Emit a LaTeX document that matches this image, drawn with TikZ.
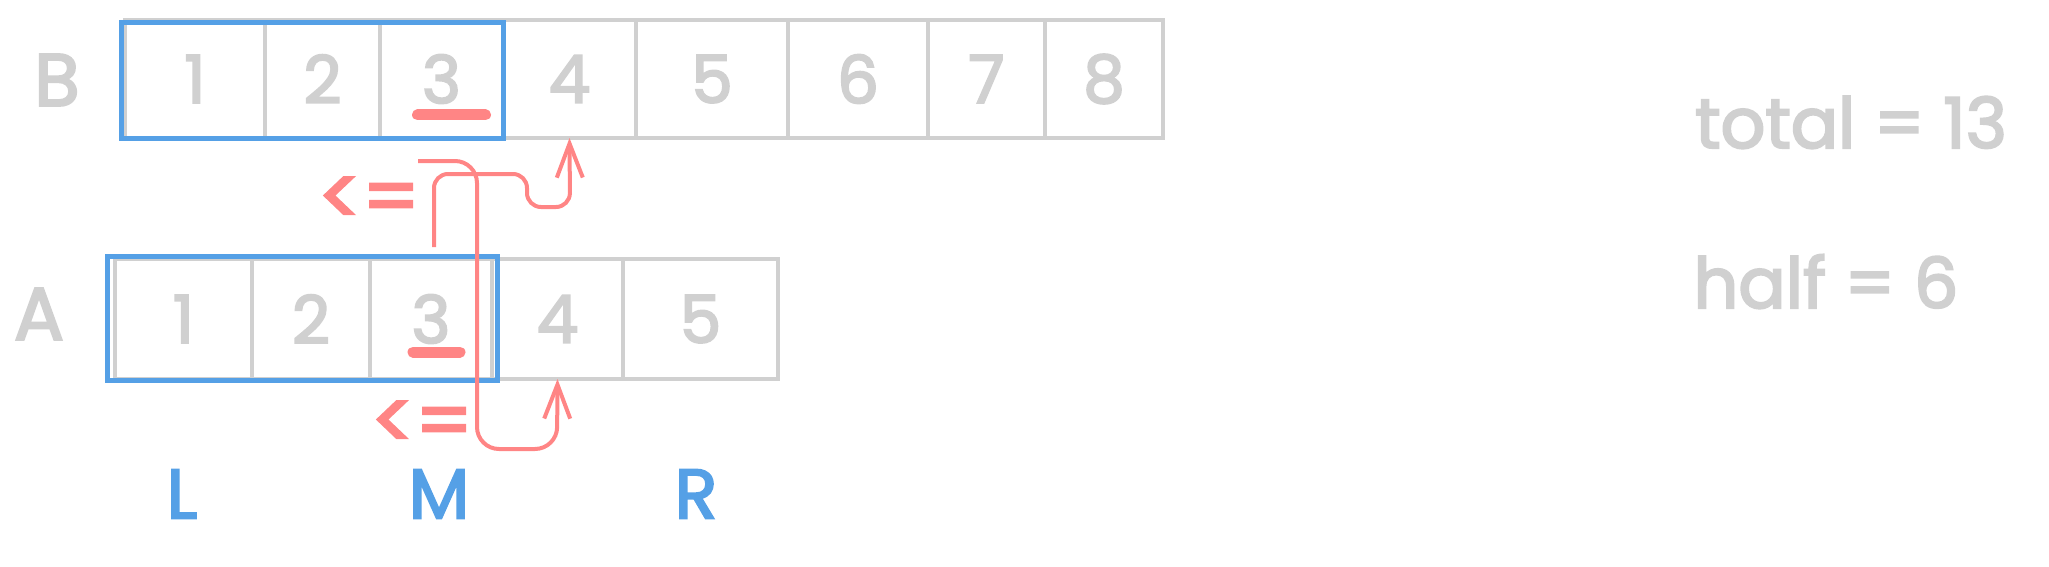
\documentclass[tikz,border=0pt]{standalone}
\usepackage{fontspec}
\setmainfont{Poppins}[FakeBold=3]
\usepackage{tikz}
\usetikzlibrary{positioning,arrows.meta}
\definecolor{inkgray}{RGB}{208,208,208}
\definecolor{inkblue}{HTML}{55A0E6}
\definecolor{inkred}{HTML}{FF8585}

\begin{document}
\begin{tikzpicture}[x=1pt,y=-1pt,
  cell/.style={draw=inkgray,line width=4pt,text=inkgray,outer sep=0pt,inner sep=0pt,font=\fontsize{66}{70}\selectfont},
  tag/.style={text=inkgray,font=\fontsize{74}{80}\selectfont},
  ptr/.style={text=inkblue,font=\fontsize{70}{74}\selectfont},
  note/.style={text=inkgray,font=\fontsize{70}{76}\selectfont},
  cmp/.style={text=inkred,font=\fontsize{80}{82}\selectfont},
  window/.style={draw=inkblue,line width=5pt},
  probe/.style={draw=inkred,line width=4pt,rounded corners=14pt,-{Straight Barb[length=34pt,width=26pt]}},
  mark3/.style={draw=inkred,line width=11pt,line cap=round}]
\useasboundingbox (0,0) rectangle (2049,567);

% array B
\node[cell,minimum height=118pt,minimum width=140pt] (b1) at (195,79) {1};
\node[cell,minimum height=118pt,minimum width=115pt,right=0pt of b1] (b2) {2};
\node[cell,minimum height=118pt,minimum width=123pt,right=0pt of b2] (b3) {3};
\node[cell,minimum height=118pt,minimum width=133pt,right=0pt of b3] (b4) {4};
\node[cell,minimum height=118pt,minimum width=152pt,right=0pt of b4] (b5) {5};
\node[cell,minimum height=118pt,minimum width=140pt,right=0pt of b5] (b6) {6};
\node[cell,minimum height=118pt,minimum width=117pt,right=0pt of b6] (b7) {7};
\node[cell,minimum height=118pt,minimum width=118pt,right=0pt of b7] (b8) {8};
\node[tag] (nameB) at (57,80) {B};

% array A
\node[cell,minimum height=120pt,minimum width=137pt] (a1) at (183.5,319) {1};
\node[cell,minimum height=120pt,minimum width=118pt,right=0pt of a1] (a2) {2};
\node[cell,minimum height=120pt,minimum width=122pt,right=0pt of a2] (a3) {3};
\node[cell,minimum height=120pt,minimum width=131pt,right=0pt of a3] (a4) {4};
\node[cell,minimum height=120pt,minimum width=155pt,right=0pt of a4] (a5) {5};
\node[tag] (nameA) at (39,314) {A};

% left parts
\draw[window] ([shift={(-4,3)}]b1.north west) rectangle (b3.south east);
\draw[window] ([shift={(-8,-3)}]a1.north west) rectangle ([shift={(5,1)}]a3.south east);
\draw[mark3] ([shift={(-24,-23)}]b3.south) -- ++(68,0);
\draw[mark3] ([shift={(-18,-27)}]a3.south) -- ++(47,0);

% pointers
\node[ptr] (ptrL) at (182,494) {L};
\node[ptr] (ptrM) at (439,494) {M};
\node[ptr] (ptrR) at (696,494) {R};

\node[note,anchor=base] (total) at (1851,148) {total = 13};
\node[note,anchor=base] (half) at (1826,308) {half = 6};

% comparisons
\node[cmp] (cmpB) at (369,201) {<=};
\node[cmp] (cmpA) at (422,425) {<=};
\coordinate (fromB) at (434,247);
\coordinate (fromA) at (418,161);
\path[probe] (fromB) -- (434,174) -- (527,174) -- (527,207) -- (570,207) -- (b4.south);
\path[probe,rounded corners=22pt] (fromA) -- (477,161) -- (477,449) -- (557,449) -- (a4.south);
\end{tikzpicture}
\end{document}
